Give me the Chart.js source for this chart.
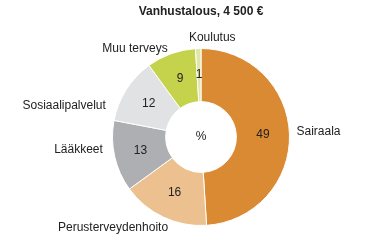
<!DOCTYPE html>
<html>
<head>
<meta charset="utf-8">
<script src="https://cdn.jsdelivr.net/npm/chart.js@4"></script>
<style>
  html, body { margin: 0; padding: 0; background: #fff; }
  #wrap { width: 365px; height: 245px; }
</style>
</head>
<body>
<div id="wrap"><canvas id="vanhusChart" width="365" height="245"></canvas></div>
<script>
// Data
const categories = ['Sairaala', 'Perusterveydenhoito', 'Lääkkeet', 'Sosiaalipalvelut', 'Muu terveys', 'Koulutus'];
const shares = [49, 16, 13, 12, 9, 1];
const sliceColors = ['#DA8A32', '#EDC08F', '#AEAFB3', '#E1E2E4', '#C5D24B', '#E0E6A8'];

// label nudges [dx, dy, align] relative to a point just outside each slice
const labelNudge = [
    [-3, -2, 'left'],
    [9, 2, 'right'],
    [-2, -9, 'right'],
    [-12, 21, 'right'],
    [0, 4, 'right'],
    [-9, -1, 'left']
];

const sliceLabels = {
    id: 'sliceLabels',
    afterDraw(chart) {
        const ctx = chart.ctx;
        const arcs = chart.getDatasetMeta(0).data;
        ctx.save();
        ctx.font = '12px "Liberation Sans", Arial, sans-serif';
        ctx.fillStyle = '#222';
        ctx.textBaseline = 'middle';
        arcs.forEach((arc, i) => {
            // value inside slice
            const p = arc.tooltipPosition();
            ctx.textAlign = 'center';
            ctx.fillText(String(shares[i]), p.x, p.y);

            // category outside
            const mid = (arc.startAngle + arc.endAngle) / 2;
            const r = arc.outerRadius + 10;
            const n = labelNudge[i];
            ctx.textAlign = n[2];
            ctx.fillText(categories[i], arc.x + Math.cos(mid) * r + n[0], arc.y + Math.sin(mid) * r + n[1]);
        });
        const a0 = arcs[0];
        ctx.textAlign = 'center';
        ctx.fillText('%', a0.x, a0.y);
        ctx.restore();
    }
};

new Chart(document.getElementById('vanhusChart').getContext('2d'), {
    type: 'doughnut',
    data: {
        labels: categories,
        datasets: [{
            data: shares,
            backgroundColor: sliceColors,
            borderColor: '#fff',
            borderWidth: 1
        }]
    },
    options: {
        responsive: false,
        animation: false,
        cutout: '40%',
        layout: {
            padding: { top: 0, bottom: 19, left: 112, right: 75 }
        },
        plugins: {
            legend: { display: false },
            tooltip: { enabled: false },
            title: {
                display: true,
                text: 'Vanhustalous, 4 500 €',
                color: '#222',
                font: { family: '"Liberation Sans", Arial, sans-serif', size: 12, weight: 'bold' },
                padding: { top: 4, bottom: 29.6 }
            }
        }
    },
    plugins: [sliceLabels]
});
</script>
</body>
</html>
